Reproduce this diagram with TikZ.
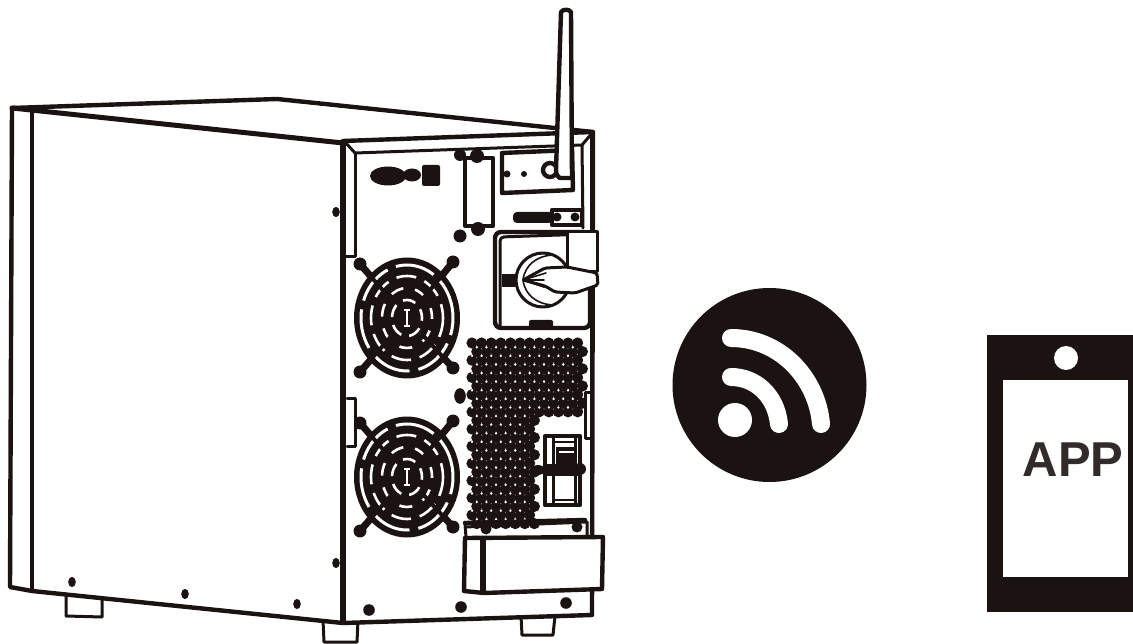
\documentclass[tikz,border=0pt]{standalone}
\usepackage{fontspec}
\setmainfont{Liberation Sans}
\definecolor{ink}{HTML}{1A1311}
\tikzset{
 thickline/.style={draw=ink,line width=4.4pt,line join=round,line cap=round},
 midline/.style={draw=ink,line width=3pt,line join=round,line cap=round},
 thinline/.style={draw=ink,line width=1.6pt,line join=round,line cap=round},
 paper/.style={fill=white},
 ringdash/.style={draw=white,line width=2.6pt},
 spoke/.style={draw=ink,line width=7pt,line cap=round}
}
\newcommand{\bolt}[3]{\fill[ink] (#1,#2) ellipse [x radius=#3pt,y radius=#3pt*1.35];}
\newcommand{\fanunit}[2]{%
 \begin{scope}[shift={(#1,#2)}]
  \foreach \ax/\ay in {-47/-54,46/-56,-47/54,46/50}{\draw[spoke] (\ax*0.7,\ay*0.7) -- (\ax,\ay); \fill[ink] (\ax,\ay) circle[radius=6.5pt];}
  \fill[ink] (0,0) ellipse[x radius=53pt,y radius=60.5pt];
  \draw[ringdash,line width=3pt,dash pattern=on 40pt off 9pt] (0,0) ellipse[x radius=46pt,y radius=53pt];
  \draw[ringdash,dash pattern=on 20pt off 9pt,dash phase=6pt] (0,0) ellipse[x radius=36pt,y radius=42pt];
  \draw[ringdash,dash pattern=on 13pt off 12pt,dash phase=3pt] (0,0) ellipse[x radius=25pt,y radius=30pt];
  \draw[ringdash,dash pattern=on 13pt off 8pt,dash phase=4pt] (0,0) ellipse[x radius=15pt,y radius=18pt];
  \foreach \ax/\ay in {-47/-54,46/-56,-47/54,46/50}{\draw[draw=ink,line width=4pt] (\ax*0.35,\ay*0.35) -- (\ax,\ay);}
  \draw[white,line width=2.2pt] (0,-8) -- (0,8) (-3,-8) -- (3,-8) (-3,8) -- (3,8);
 \end{scope}}
\begin{document}
\begin{tikzpicture}[x=1pt,y=-1pt]
\useasboundingbox[fill=white] (0,0) rectangle (1133,644);
% feet
\draw[midline,paper] (66,596) -- (66,616) -- (102,617) -- (102,600);
\draw[midline,paper] (323,620) -- (324,642) -- (357,642) -- (358,620);
\draw[midline,paper] (521,616) -- (522,635) -- (553,635) -- (555,616);
% side panel
\draw[thickline,paper] (12,108) -- (277,99) -- (593,132) -- (592,615) -- (343,623) -- (32,591) -- (10,587) -- (12,108);
\fill[white] (300,104) -- (555,131) -- (345,138) -- (60,111) -- cycle;
\draw[draw=ink,line width=2.4pt] (12,108) -- (277,99) -- (557,128);
\draw[draw=ink,line width=3.6pt,line cap=round] (32,109) -- (32,591);
\draw[draw=ink,line width=5pt,line cap=round] (12,108) -- (343,143);
\draw[draw=ink,line width=5.4pt] (343,143) -- (343,623);
\draw[thickline] (343,141) -- (593,132);
\draw[midline] (32,591) -- (343,623);
\bolt{336}{212}{3.8}\bolt{336}{563}{3.8}\bolt{72}{582}{3.8}\bolt{185}{594}{3.8}\bolt{297}{604}{3.8}
% back frame
\draw[midline] (345,142) -- (355,153) -- (582,145) -- (593,132);
\draw[midline] (355,153) -- (355,257) -- (346,257);
\draw[midline] (582,145) -- (583,228);
\draw[draw=ink,line width=4.6pt] (592,133) -- (592,615);
% top left connector
\fill[ink] (388,176) ellipse[x radius=18pt,y radius=9.5pt];
\fill[ink] (412,175) ellipse[x radius=9pt,y radius=6.5pt];
\fill[ink,rounded corners=2pt] (422,165) rectangle (440,186);
% plate
\draw[thickline,paper] (465,158) -- (493,158) -- (493,226) -- (465,226) -- cycle;
\fill[ink] (460,155) circle[radius=6pt] (477,156) circle[radius=7pt] (478,229) circle[radius=7pt] (460,236) circle[radius=6.5pt];
% module
\draw[thickline,paper] (502,153) -- (572,150) -- (573,190) -- (502,193) -- cycle;
\fill[ink] (507,174) circle[radius=3.5pt] (524,174) circle[radius=3pt];
\draw[thickline,paper] (550,170) circle[radius=7pt];
% antenna
\draw[thickline,paper] (561,12) .. controls (563,9) and (569,9) .. (571,12) -- (572,178) -- (560,178) .. controls (557,176) and (556,174) .. (556,170) -- cycle;
% right connector
\fill[ink,rounded corners=4pt] (513,212) rectangle (553,223);
\draw[thickline,paper] (552,210) rectangle (582,225);
\fill[ink] (557,217) circle[radius=4.5pt] (575,217) circle[radius=4.5pt];
% switch panel
\draw[thickline,paper,rounded corners=6pt] (495,232) rectangle (590,328);
\draw[midline,rounded corners=4pt] (500,326) -- (500,237) -- (590,234);
\draw[midline,paper] (567,232) -- (597,232) -- (597,272) -- (567,272) -- cycle;
\draw[midline,paper] (543,280) circle[radius=27pt];
\draw[thinline] (523,280) .. controls (525,264) and (538,256) .. (552,255);
\draw[thinline] (523,280) .. controls (525,296) and (538,304) .. (552,305);
\draw[midline,paper,rounded corners=2pt] (523,280) -- (545,268) -- (567,267) -- (597,273) -- (598,285) -- (575,293) -- (555,292) -- (545,286) -- cycle;
\draw[thinline] (523,280) -- (546,273) (523,280) -- (544,280) (523,280) -- (544,287);
\fill[ink] (502,274) rectangle (515,287);
\fill[ink,rounded corners=2pt] (529,320) rectangle (553,329);
% bolt and fans
\bolt{460}{396}{5.8}
\fanunit{407}{318}
\fanunit{407}{477}
% perforation
\foreach \r in {0,...,21}{
  \pgfmathsetmacro{\yy}{343+\r*8.6}
  \pgfmathsetmacro{\off}{mod(\r,2)*4.8}
  \pgfmathsetmacro{\lim}{\r<9 ? 11 : 6}
  \foreach \c in {0,...,\lim}{
    \pgfmathsetmacro{\xx}{472+\off+\c*9.6}
    \fill[ink] (\xx,\yy) circle[radius=5.6pt];
  }
}
\foreach \r in {0,...,20}{
  \pgfmathsetmacro{\yy}{347.3+\r*8.6}
  \pgfmathsetmacro{\off}{mod(\r+1,2)*4.8}
  \pgfmathsetmacro{\lim}{\r<8 ? 10 : 5}
  \foreach \c in {0,...,\lim}{
    \pgfmathsetmacro{\xx}{472+\off+\c*9.6}
    \fill[white] (\xx,\yy) circle[radius=1.3pt];
  }
}
% lower right ports
\draw[thickline,paper] (545,436) rectangle (580,505);
\draw[midline] (553,436) -- (553,505) (575,436) -- (575,505);
\draw[thinline] (553,442) -- (575,442) (553,500) -- (575,500);
\fill[ink] (556,447) rectangle (576,464);
\draw[white,line width=1.6pt] (559,452) -- (574,452);
\fill[ink] (545,464) rectangle (580,476);
\fill[ink] (538,470) ellipse[x radius=7pt,y radius=5pt] (580,469) circle[radius=6pt];
% tabs
\draw[midline,paper] (347,398) -- (355,398) -- (355,446) -- (347,446);
\draw[midline,paper] (590,392) -- (585,392) -- (585,438) -- (590,438);
% bottom box
\draw[midline] (465,527) -- (587,522) -- (587,537);
\draw[midline] (465,522) -- (466,538);
\draw[thickline] (465,523) -- (585,520);
\fill[ink] (486,529) circle[radius=5.5pt] (577,527) circle[radius=5.5pt];
\draw[thickline,paper] (465,538) -- (603,537) -- (602,589) -- (484,593) -- (464,591) -- cycle;
\draw[draw=ink,line width=5.5pt] (483,538) -- (483,593);
\fill[ink] (369,610) circle[radius=5.8pt] (461,607) circle[radius=5.8pt] (566,603) circle[radius=5.8pt];
% wifi
\fill[ink] (769.5,385) circle[radius=97pt];
\fill[white] (735,420) circle[radius=17pt];
\draw[white,line width=18pt,line cap=round] (731,338) .. controls (780,338) and (817,378) .. (821,424);
\draw[white,line width=18pt,line cap=round] (731,377) .. controls (755,377) and (776,395) .. (779,424);
% phone
\fill[ink] (987,335) rectangle (1133,612);
\fill[white] (1003,380) rectangle (1128,577);
\fill[white] (1066,358) circle[radius=12pt];
\node[font=\bfseries\fontsize{49}{49}\selectfont,text=ink!90,inner sep=0pt,anchor=center] (apptext) at (1073,460) {APP};
\end{tikzpicture}
\end{document}
